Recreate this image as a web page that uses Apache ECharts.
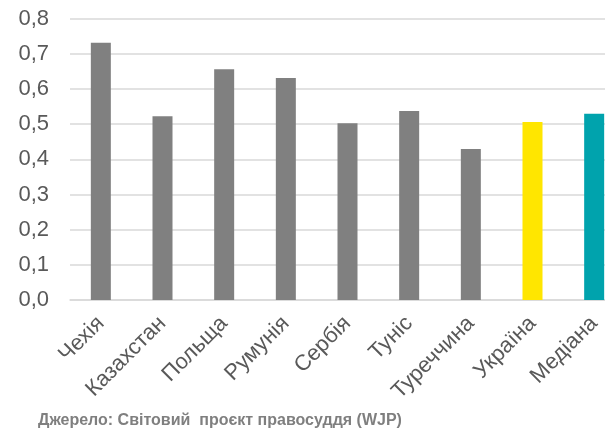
<!DOCTYPE html>
<html>
<head>
<meta charset="utf-8">
<script src="https://cdn.jsdelivr.net/npm/echarts@6/dist/echarts.min.js"></script>
<style>
  html, body { margin: 0; padding: 0; background: #fff; }
  #chart { width: 605px; height: 433px; }
</style>
</head>
<body>
<div id="chart"></div>
<script>
var categories = ["Чехія", "Казахстан", "Польща", "Румунія", "Сербія", "Туніс", "Туреччина", "Україна", "Медіана"];
var values = [0.731, 0.522, 0.656, 0.631, 0.502, 0.537, 0.429, 0.506, 0.529];
var barColors = ["#808080", "#808080", "#808080", "#808080", "#808080", "#808080", "#808080", "#ffe600", "#00a3ad"];
var yTicks = { min: 0, max: 0.8, interval: 0.1 };
var sourceNote = "Джерело: Світовий  проєкт правосуддя (WJP)";

var chart = echarts.init(document.getElementById("chart"));
chart.setOption({
    animation: false,
    textStyle: { fontFamily: "Liberation Sans, Arial, sans-serif" },
    grid: { left: 70, top: 18.5, width: 555, bottom: 133, containLabel: false, outerBoundsMode: "none" },
    graphic: [
        {
            type: "text",
            left: 38,
            top: 413,
            style: { text: sourceNote, fill: "#7f7f7f", font: "bold 16px Liberation Sans, Arial, sans-serif" }
        }
    ],
    xAxis: {
        type: "category",
        data: categories,
        axisLine: { show: true, lineStyle: { color: "#d9d9d9", width: 1.5 } },
        axisTick: { show: false },
        axisLabel: { rotate: 45, interval: 0, color: "#595959", fontSize: 22, margin: 20 }
    },
    yAxis: {
        type: "value",
        min: yTicks.min,
        max: yTicks.max,
        interval: yTicks.interval,
        axisLine: { show: false },
        axisTick: { show: false },
        splitLine: { lineStyle: { color: "#d9d9d9", width: 1.5 } },
        axisLabel: {
            color: "#595959",
            fontSize: 22,
            margin: 21,
            formatter: function (v) { return v.toFixed(1).replace(".", ","); }
        }
    },
    series: [
        {
            type: "bar",
            barWidth: 20,
            data: values.map(function (v, i) {
                return { value: v, itemStyle: { color: barColors[i] } };
            })
        }
    ]
});
</script>
</body>
</html>
